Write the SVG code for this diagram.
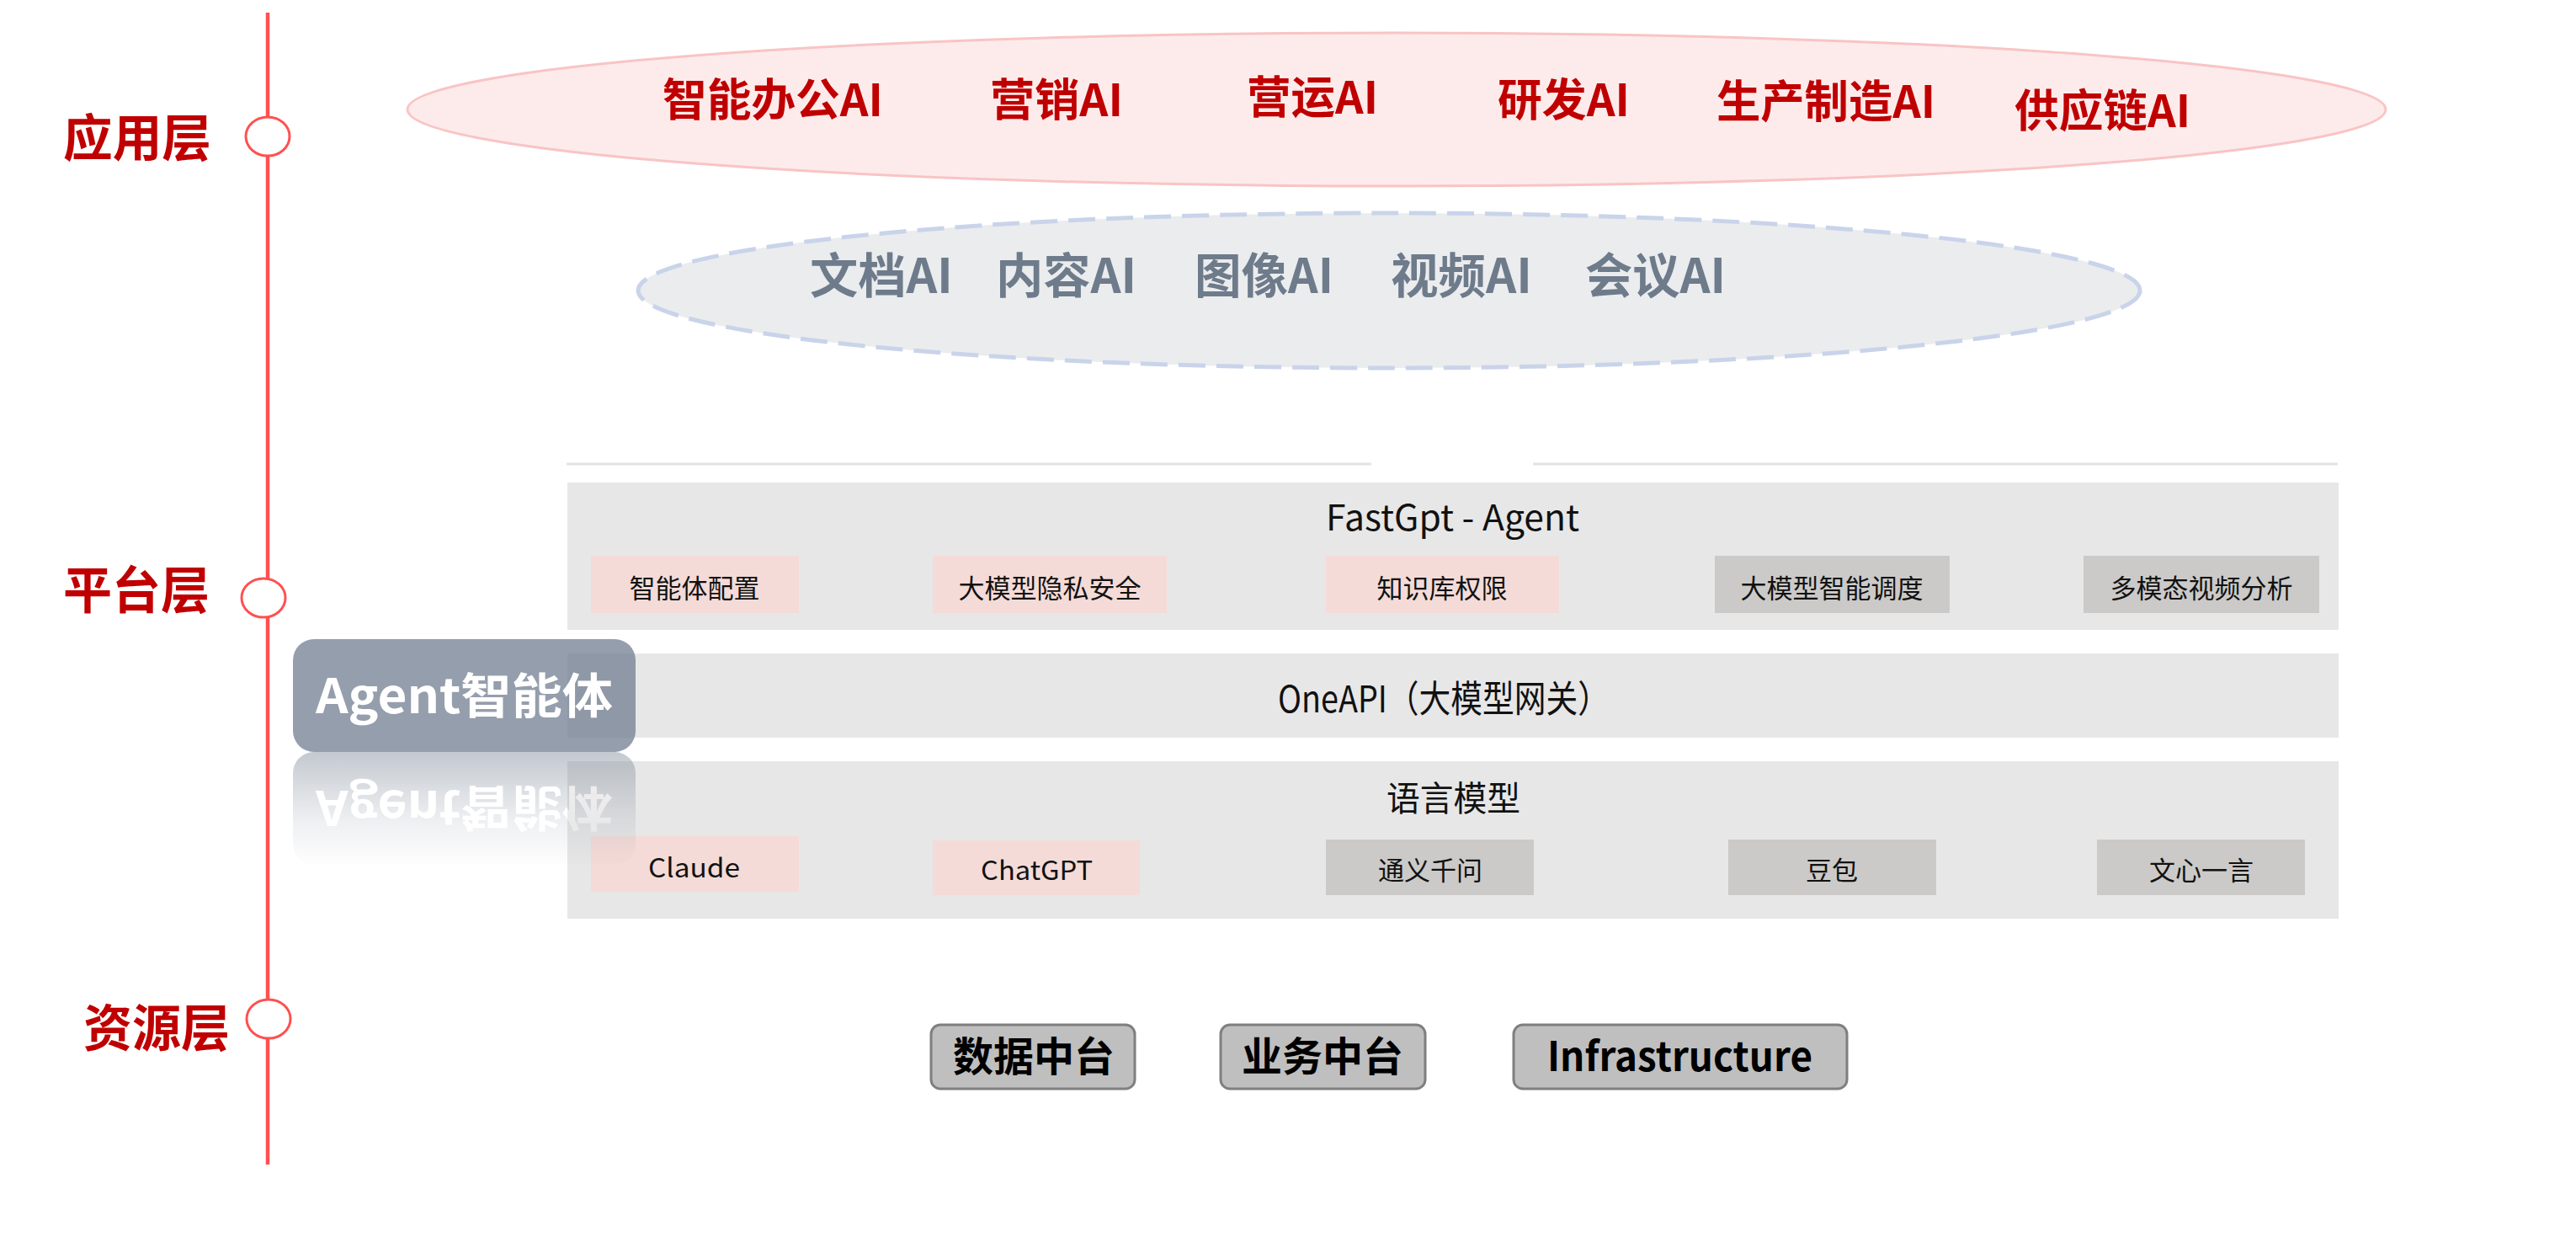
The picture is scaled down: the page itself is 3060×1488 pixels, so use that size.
<svg xmlns="http://www.w3.org/2000/svg" width="3060" height="1488" viewBox="0 0 3060 1488">
  <style>
    text { font-family: "Noto Sans CJK SC", "Noto Sans", "Liberation Sans", sans-serif; }
    .layer { font-size: 60px; font-weight: 700; fill: #C00000; }
    .app { font-size: 53px; font-weight: 700; fill: #C00000; }
    .cap { font-size: 57px; font-weight: 700; fill: #6E7B8B; }
    .ptitle { font-size: 42px; font-weight: 400; fill: #111111; }
    .item { font-size: 31px; font-weight: 400; fill: #111111; text-anchor: middle; }
    .res { font-size: 48px; font-weight: 700; fill: #000000; text-anchor: middle; }
    .panel { fill: #E7E7E7; }
    .pink { fill: #F4DBD7; }
    .grey { fill: #CBCAC8; }
    .resbox { fill: #BFBFBF; stroke: #7F7F7F; stroke-width: 3; }
    .dot { fill: #FFFFFF; stroke: #FF5050; stroke-width: 3; }
  </style>
  <defs>
    <linearGradient id="reflFade" gradientUnits="userSpaceOnUse" x1="0" y1="893" x2="0" y2="1030">
      <stop offset="0" stop-color="#FFFFFF" stop-opacity="0.42"/>
      <stop offset="0.6" stop-color="#FFFFFF" stop-opacity="0.12"/>
      <stop offset="1" stop-color="#FFFFFF" stop-opacity="0"/>
    </linearGradient>
    <mask id="reflMask" maskUnits="userSpaceOnUse" x="300" y="880" width="500" height="170">
      <rect x="300" y="893" width="500" height="150" fill="url(#reflFade)"/>
    </mask>
  </defs>

  <rect width="3060" height="1488" fill="#FFFFFF"/>

  <!-- timeline -->
  <g id="timeline">
    <line x1="318" y1="15" x2="318" y2="1383" stroke="#FF5050" stroke-width="4.5"/>
    <ellipse class="dot" cx="318" cy="162" rx="26" ry="23"/>
    <ellipse class="dot" cx="313" cy="710" rx="26" ry="23"/>
    <ellipse class="dot" cx="319" cy="1210" rx="26" ry="23"/>
  </g>

  <g id="connectors"></g>

  <!-- layer labels -->
  <g id="label-app"><text class="layer" x="75" y="186" textLength="176" lengthAdjust="spacingAndGlyphs">应用层</text></g>
  <g id="label-platform"><text class="layer" x="75" y="723" textLength="174" lengthAdjust="spacingAndGlyphs">平台层</text></g>
  <g id="label-resource"><text class="layer" x="99" y="1243" textLength="174" lengthAdjust="spacingAndGlyphs">资源层</text></g>

  <!-- application ellipse -->
  <g id="app-ellipse">
    <ellipse cx="1659" cy="130" rx="1175" ry="91" fill="#FDEBEB" stroke="#F9C4C4" stroke-width="3"/>
    <text class="app" x="787" y="138" textLength="262" lengthAdjust="spacingAndGlyphs">智能办公AI</text>
    <text class="app" x="1176" y="138" textLength="158" lengthAdjust="spacingAndGlyphs">营销AI</text>
    <text class="app" x="1481" y="135" textLength="156" lengthAdjust="spacingAndGlyphs">营运AI</text>
    <text class="app" x="1779" y="138" textLength="157" lengthAdjust="spacingAndGlyphs">研发AI</text>
    <text class="app" x="2039" y="140" textLength="260" lengthAdjust="spacingAndGlyphs">生产制造AI</text>
    <text class="app" x="2393" y="151" textLength="209" lengthAdjust="spacingAndGlyphs">供应链AI</text>
  </g>

  <!-- capability ellipse -->
  <g id="cap-ellipse">
    <ellipse cx="1650" cy="345" rx="892" ry="92" fill="#EBECEE" stroke="#C9D4EA" stroke-width="5" stroke-dasharray="32 13"/>
    <text class="cap" x="962" y="348" textLength="170" lengthAdjust="spacingAndGlyphs">文档AI</text>
    <text class="cap" x="1183" y="348" textLength="167" lengthAdjust="spacingAndGlyphs">内容AI</text>
    <text class="cap" x="1419" y="348" textLength="165" lengthAdjust="spacingAndGlyphs">图像AI</text>
    <text class="cap" x="1652" y="348" textLength="168" lengthAdjust="spacingAndGlyphs">视频AI</text>
    <text class="cap" x="1883" y="348" textLength="167" lengthAdjust="spacingAndGlyphs">会议AI</text>
  </g>

  <!-- divider -->
  <g id="divider">
    <line x1="673" y1="551" x2="1629" y2="551" stroke="#E3E3E3" stroke-width="3"/>
    <line x1="1821" y1="551" x2="2777" y2="551" stroke="#E3E3E3" stroke-width="3"/>
  </g>

  <!-- FastGpt panel -->
  <g id="panel-fastgpt">
    <rect class="panel" x="674" y="573" width="2104" height="175"/>
    <text class="ptitle" x="1575" y="630" textLength="301" lengthAdjust="spacingAndGlyphs">FastGpt - Agent</text>
    <rect class="pink" x="702" y="660" width="247" height="68"/>
    <text class="item" x="825" y="710">智能体配置</text>
    <rect class="pink" x="1108" y="660" width="278" height="68"/>
    <text class="item" x="1247" y="710">大模型隐私安全</text>
    <rect class="pink" x="1575" y="660" width="277" height="68"/>
    <text class="item" x="1713" y="710">知识库权限</text>
    <rect class="grey" x="2037" y="660" width="279" height="68"/>
    <text class="item" x="2176" y="710">大模型智能调度</text>
    <rect class="grey" x="2475" y="660" width="280" height="68"/>
    <text class="item" x="2615" y="710">多模态视频分析</text>
  </g>

  <!-- OneAPI panel -->
  <g id="panel-oneapi">
    <rect class="panel" x="674" y="776" width="2104" height="100"/>
    <text class="ptitle" x="1518" y="846" style="font-size:44px" textLength="394" lengthAdjust="spacingAndGlyphs">OneAPI（大模型网关）</text>
  </g>

  <!-- Language model panel -->
  <g id="panel-llm">
    <rect class="panel" x="674" y="904" width="2104" height="187"/>
    <text class="ptitle" x="1647" y="963" style="font-size:41px" textLength="159" lengthAdjust="spacingAndGlyphs">语言模型</text>
    <rect class="pink" x="702" y="993" width="247" height="66"/>
    <text class="item" x="770" y="1042" style="text-anchor:start" textLength="109" lengthAdjust="spacingAndGlyphs">Claude</text>
    <rect class="pink" x="1108" y="998" width="246" height="65"/>
    <text class="item" x="1165" y="1045" style="text-anchor:start" textLength="133" lengthAdjust="spacingAndGlyphs">ChatGPT</text>
    <rect class="grey" x="1575" y="997" width="247" height="66"/>
    <text class="item" x="1699" y="1045">通义千问</text>
    <rect class="grey" x="2053" y="997" width="247" height="66"/>
    <text class="item" x="2176" y="1045">豆包</text>
    <rect class="grey" x="2491" y="997" width="247" height="66"/>
    <text class="item" x="2615" y="1045">文心一言</text>
  </g>

  <!-- Agent box with reflection -->
  <g id="agent">
    <rect x="348" y="759" width="407" height="134" rx="25" fill="#727E90" fill-opacity="0.75"/>
    <text x="375" y="847" style="font-size:57px;font-weight:700;fill:#FFFFFF" textLength="353" lengthAdjust="spacingAndGlyphs">Agent智能体</text>
    <g mask="url(#reflMask)">
      <g transform="translate(0,1786) scale(1,-1)">
        <rect x="348" y="759" width="407" height="134" rx="25" fill="#727E90"/>
        <text x="375" y="847" style="font-size:57px;font-weight:700;fill:#FFFFFF" textLength="353" lengthAdjust="spacingAndGlyphs">Agent智能体</text>
      </g>
    </g>
  </g>

  <!-- Resource layer -->
  <g id="res-data">
    <rect class="resbox" x="1106" y="1217" width="242" height="76" rx="11"/>
    <text class="res" x="1228" y="1272">数据中台</text>
  </g>
  <g id="res-business">
    <rect class="resbox" x="1450" y="1217" width="243" height="76" rx="11"/>
    <text class="res" x="1571" y="1272">业务中台</text>
  </g>
  <g id="res-infra">
    <rect class="resbox" x="1798" y="1217" width="396" height="76" rx="11"/>
    <text class="res" x="1838" y="1272" style="text-anchor:start" textLength="315" lengthAdjust="spacingAndGlyphs">Infrastructure</text>
  </g>
</svg>
